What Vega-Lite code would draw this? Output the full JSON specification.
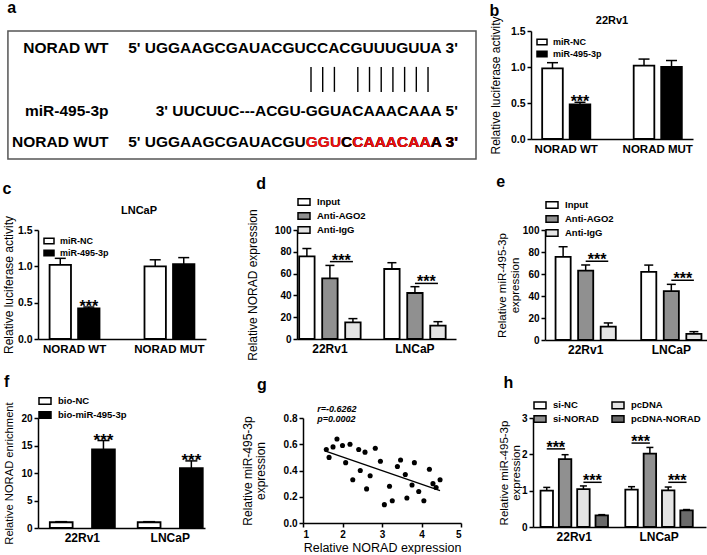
{
  "$schema": "https://vega.github.io/schema/vega-lite/v6.json",
  "padding": {"left": 2, "top": 0, "right": 0, "bottom": 0},
  "background": "white",
  "spacing": 13,
  "resolve": {"scale": {"x": "independent", "y": "independent", "xOffset": "independent", "fill": "independent", "color": "independent"}, "legend": {"fill": "independent", "color": "independent"}, "axis": {"x": "independent", "y": "independent"}},
  "datasets": {
    "aBox": [{"panel": "a"}],
    "aNames": [
      {"line": "NORAD WT"},
      {"line": "miR-495-3p"},
      {"line": "NORAD WUT"}
    ],
    "aSeq": [
      {"line": "NORAD WT", "seq": "5' UGGAAGCGAUACGUCCACGUUUGUUA 3'", "kind": "base"},
      {"line": "miR-495-3p", "seq": "3' UUCUUC---ACGU-GGUACAAACAAA 5'", "kind": "base"},
      {"line": "NORAD WUT", "seq": "5' UGGAAGCGAUACGUGGUCCAAACAAA 3'", "kind": "base"},
      {"line": "NORAD WUT", "seq": "GGUCCAAACAAA 3'", "kind": "mut"},
      {"line": "NORAD WUT", "seq": "CCAAACAAA 3'", "kind": "base"},
      {"line": "NORAD WUT", "seq": "CAAACAAA 3'", "kind": "mut"},
      {"line": "NORAD WUT", "seq": "A 3'", "kind": "base"}
    ],
    "aPairs": [
      {"nt": 15, "line": "pair"}, {"nt": 16, "line": "pair"}, {"nt": 17, "line": "pair"},
      {"nt": 19, "line": "pair"}, {"nt": 20, "line": "pair"}, {"nt": 21, "line": "pair"},
      {"nt": 22, "line": "pair"}, {"nt": 23, "line": "pair"}, {"nt": 24, "line": "pair"},
      {"nt": 25, "line": "pair"}
    ],
    "b": [
      {"group": "NORAD WT", "cond": "miR-NC", "mean": 0.98, "upper": 1.06},
      {"group": "NORAD WT", "cond": "miR-495-3p", "mean": 0.48, "upper": 0.51},
      {"group": "NORAD MUT", "cond": "miR-NC", "mean": 1.02, "upper": 1.11},
      {"group": "NORAD MUT", "cond": "miR-495-3p", "mean": 1.0, "upper": 1.09}
    ],
    "c": [
      {"group": "NORAD WT", "cond": "miR-NC", "mean": 1.02, "upper": 1.11},
      {"group": "NORAD WT", "cond": "miR-495-3p", "mean": 0.42, "upper": 0.44},
      {"group": "NORAD MUT", "cond": "miR-NC", "mean": 1.0, "upper": 1.09},
      {"group": "NORAD MUT", "cond": "miR-495-3p", "mean": 1.03, "upper": 1.12}
    ],
    "d": [
      {"group": "22Rv1", "cond": "Input", "mean": 75.8, "upper": 83.0},
      {"group": "22Rv1", "cond": "Anti-AGO2", "mean": 55.7, "upper": 67.5},
      {"group": "22Rv1", "cond": "Anti-IgG", "mean": 15.3, "upper": 18.7},
      {"group": "LNCaP", "cond": "Input", "mean": 64.2, "upper": 70.0},
      {"group": "LNCaP", "cond": "Anti-AGO2", "mean": 42.2, "upper": 48.0},
      {"group": "LNCaP", "cond": "Anti-IgG", "mean": 12.2, "upper": 15.9}
    ],
    "dsig": [
      {"group": "22Rv1", "cond": "Anti-AGO2", "y": 71, "pair": "22Rv1", "end": "left"},
      {"group": "22Rv1", "cond": "Anti-IgG", "y": 71, "pair": "22Rv1", "end": "right"},
      {"group": "LNCaP", "cond": "Anti-AGO2", "y": 51, "pair": "LNCaP", "end": "left"},
      {"group": "LNCaP", "cond": "Anti-IgG", "y": 51, "pair": "LNCaP", "end": "right"}
    ],
    "e": [
      {"group": "22Rv1", "cond": "Input", "mean": 75.6, "upper": 84.8},
      {"group": "22Rv1", "cond": "Anti-AGO2", "mean": 63.1, "upper": 68.2},
      {"group": "22Rv1", "cond": "Anti-IgG", "mean": 12.2, "upper": 15.5},
      {"group": "LNCaP", "cond": "Input", "mean": 61.9, "upper": 68.1},
      {"group": "LNCaP", "cond": "Anti-AGO2", "mean": 44.5, "upper": 50.6},
      {"group": "LNCaP", "cond": "Anti-IgG", "mean": 5.5, "upper": 7.6}
    ],
    "esig": [
      {"group": "22Rv1", "cond": "Anti-AGO2", "y": 71.6, "pair": "22Rv1", "end": "left"},
      {"group": "22Rv1", "cond": "Anti-IgG", "y": 71.6, "pair": "22Rv1", "end": "right"},
      {"group": "LNCaP", "cond": "Anti-AGO2", "y": 54.3, "pair": "LNCaP", "end": "left"},
      {"group": "LNCaP", "cond": "Anti-IgG", "y": 54.3, "pair": "LNCaP", "end": "right"}
    ],
    "f": [
      {"group": "22Rv1", "cond": "bio-NC", "mean": 1.05, "upper": 1.15},
      {"group": "22Rv1", "cond": "bio-miR-495-3p", "mean": 14.3, "upper": 15.9},
      {"group": "LNCaP", "cond": "bio-NC", "mean": 1.05, "upper": 1.15},
      {"group": "LNCaP", "cond": "bio-miR-495-3p", "mean": 10.9, "upper": 12.2}
    ],
    "g": [
      {"norad": 1.59, "mir": 0.56}, {"norad": 1.66, "mir": 0.50}, {"norad": 1.76, "mir": 0.58},
      {"norad": 1.86, "mir": 0.64}, {"norad": 2.00, "mir": 0.59}, {"norad": 2.08, "mir": 0.46},
      {"norad": 2.19, "mir": 0.60}, {"norad": 2.26, "mir": 0.33}, {"norad": 2.41, "mir": 0.56},
      {"norad": 2.45, "mir": 0.40}, {"norad": 2.57, "mir": 0.54}, {"norad": 2.61, "mir": 0.26},
      {"norad": 2.70, "mir": 0.36}, {"norad": 2.83, "mir": 0.57}, {"norad": 2.96, "mir": 0.47},
      {"norad": 3.06, "mir": 0.14}, {"norad": 3.19, "mir": 0.28}, {"norad": 3.26, "mir": 0.17},
      {"norad": 3.39, "mir": 0.43}, {"norad": 3.47, "mir": 0.48}, {"norad": 3.59, "mir": 0.37},
      {"norad": 3.63, "mir": 0.19}, {"norad": 3.76, "mir": 0.29}, {"norad": 3.82, "mir": 0.46},
      {"norad": 3.93, "mir": 0.24}, {"norad": 4.06, "mir": 0.17}, {"norad": 4.20, "mir": 0.41},
      {"norad": 4.29, "mir": 0.30}, {"norad": 4.37, "mir": 0.27}, {"norad": 4.47, "mir": 0.33}
    ],
    "gfit": [
      {"norad": 1.59, "mir": 0.545},
      {"norad": 4.47, "mir": 0.247}
    ],
    "gstat": [
      {"stat": "r=-0.6262", "row": 0.869},
      {"stat": "p=0.0002", "row": 0.796}
    ],
    "h": [
      {"group": "22Rv1", "cond": "si-NC", "mean": 1.0, "upper": 1.09},
      {"group": "22Rv1", "cond": "si-NORAD", "mean": 1.87, "upper": 1.99},
      {"group": "22Rv1", "cond": "pcDNA", "mean": 1.04, "upper": 1.13},
      {"group": "22Rv1", "cond": "pcDNA-NORAD", "mean": 0.32, "upper": 0.34},
      {"group": "LNCaP", "cond": "si-NC", "mean": 1.03, "upper": 1.11},
      {"group": "LNCaP", "cond": "si-NORAD", "mean": 2.02, "upper": 2.19},
      {"group": "LNCaP", "cond": "pcDNA", "mean": 1.01, "upper": 1.10},
      {"group": "LNCaP", "cond": "pcDNA-NORAD", "mean": 0.46, "upper": 0.48}
    ],
    "hsig": [
      {"group": "22Rv1", "cond": "si-NC", "y": 2.15, "pair": "22Rv1-si", "end": "left"},
      {"group": "22Rv1", "cond": "si-NORAD", "y": 2.15, "pair": "22Rv1-si", "end": "right"},
      {"group": "22Rv1", "cond": "pcDNA", "y": 1.23, "pair": "22Rv1-pc", "end": "left"},
      {"group": "22Rv1", "cond": "pcDNA-NORAD", "y": 1.23, "pair": "22Rv1-pc", "end": "right"},
      {"group": "LNCaP", "cond": "si-NC", "y": 2.31, "pair": "LNCaP-si", "end": "left"},
      {"group": "LNCaP", "cond": "si-NORAD", "y": 2.31, "pair": "LNCaP-si", "end": "right"},
      {"group": "LNCaP", "cond": "pcDNA", "y": 1.23, "pair": "LNCaP-pc", "end": "left"},
      {"group": "LNCaP", "cond": "pcDNA-NORAD", "y": 1.23, "pair": "LNCaP-pc", "end": "right"}
    ]
  },
  "vconcat": [
    {
      "spacing": 12,
      "resolve": {"scale": {"x": "independent", "y": "independent", "xOffset": "independent", "fill": "independent", "color": "independent"}, "legend": {"fill": "independent", "color": "independent"}},
      "hconcat": [
        {
          "title": {"text": "a", "offset": 14},
          "width": 438,
          "height": 128,
          "layer": [
            {
              "data": {"name": "aBox"},
              "mark": {"type": "rect", "filled": false, "stroke": "#555555", "strokeWidth": 1.5},
              "encoding": {
                "x": {"datum": -10.9, "type": "quantitative", "scale": {"domain": [-8.33, 29.1], "nice": false, "zero": false}, "axis": null},
                "x2": {"datum": 29.1}
              }
            },
            {
              "data": {"name": "aNames"},
              "mark": {"type": "text", "align": "right", "baseline": "middle", "fontSize": 15.5, "fontWeight": "bold"},
              "encoding": {
                "x": {"datum": -2.3, "type": "quantitative", "axis": null},
                "y": {"field": "line", "type": "nominal", "scale": {"type": "point", "domain": ["NORAD WT", "pair", "miR-495-3p", "NORAD WUT"], "padding": 0.55}, "axis": null},
                "text": {"field": "line"}
              }
            },
            {
              "data": {"name": "aSeq"},
              "mark": {"type": "text", "align": "right", "baseline": "middle", "fontSize": 15.5, "fontWeight": "bold"},
              "encoding": {
                "x": {"datum": 27.55, "type": "quantitative", "axis": null},
                "y": {"field": "line", "type": "nominal", "axis": null},
                "text": {"field": "seq"},
                "color": {"field": "kind", "type": "nominal", "scale": {"domain": ["base", "mut"], "range": ["black", "#ee1111"]}, "legend": null}
              }
            },
            {
              "data": {"name": "aPairs"},
              "mark": {"type": "tick", "size": 25, "thickness": 1.4, "color": "black", "opacity": 1},
              "encoding": {
                "x": {"field": "nt", "type": "quantitative", "axis": null},
                "y": {"field": "line", "type": "nominal", "axis": null}
              }
            }
          ]
        },
        {
          "title": {"text": "b", "offset": -3.5},
          "resolve": {"scale": {"x": "independent", "y": "independent", "xOffset": "independent", "fill": "independent"}, "legend": {"fill": "independent"}},
          "vconcat": [
            {
              "title": {"text": "22Rv1", "anchor": "middle", "frame": "group", "fontSize": 11, "offset": -10.5},
              "width": 162,
              "height": 108,
              "data": {"name": "b"},
              "encoding": {
                "x": {"field": "group", "type": "nominal", "sort": ["NORAD WT", "NORAD MUT"], "scale": {"paddingInner": 0.45, "paddingOuter": 0.11}, "axis": {"title": null, "labelAngle": 0, "ticks": false, "labelFontSize": 11.5, "labelPadding": 4}},
                "xOffset": {"field": "cond", "type": "nominal", "sort": ["miR-NC", "miR-495-3p"], "scale": {"paddingInner": 0.25, "paddingOuter": 0.04}}
              },
              "layer": [
                {"mark": {"type": "bar", "stroke": "black", "strokeWidth": 1.8}, "encoding": {
                  "y": {"field": "mean", "type": "quantitative", "scale": {"domain": [0, 1.5], "nice": false}, "axis": {"title": "Relative luciferase activity", "values": [0, 0.5, 1, 1.5], "format": ".1f", "labelFontSize": 10.5, "titleFontSize": 12, "titlePadding": 8}},
                  "fill": {"field": "cond", "type": "nominal", "scale": {"domain": ["miR-NC", "miR-495-3p"], "range": ["white", "black"]}, "legend": {"orient": "top-left", "offset": 5, "symbolSize": 100, "rowPadding": -1, "labelFontSize": 9, "labelOffset": 5}}
                }},
                {"mark": {"type": "rule", "color": "black", "strokeWidth": 1.5}, "encoding": {"y": {"field": "mean", "type": "quantitative", "axis": {"title": "Relative luciferase activity", "values": [0, 0.5, 1, 1.5], "format": ".1f", "labelFontSize": 10.5, "titleFontSize": 12, "titlePadding": 8}}, "y2": {"field": "upper"}}},
                {"mark": {"type": "tick", "color": "black", "thickness": 1.5, "size": 11, "opacity": 1}, "encoding": {"y": {"field": "upper", "type": "quantitative", "axis": {"title": "Relative luciferase activity", "values": [0, 0.5, 1, 1.5], "format": ".1f", "labelFontSize": 10.5, "titleFontSize": 12, "titlePadding": 8}}}},
                {"transform": [{"filter": "datum.cond === 'miR-495-3p' && datum.group === 'NORAD WT'"}], "mark": {"type": "text", "text": "***", "fontSize": 16, "fontWeight": "bold", "baseline": "alphabetic", "dy": 5}, "encoding": {"y": {"field": "upper", "type": "quantitative", "axis": {"title": "Relative luciferase activity", "values": [0, 0.5, 1, 1.5], "format": ".1f", "labelFontSize": 10.5, "titleFontSize": 12, "titlePadding": 8}}}}
              ]
            }
          ]
        }
      ]
    },
    {
      "spacing": 40,
      "resolve": {"scale": {"x": "independent", "y": "independent", "xOffset": "independent", "fill": "independent"}, "legend": {"fill": "independent"}},
      "hconcat": [
        {
          "title": {"text": "c", "offset": 8.5},
          "resolve": {"scale": {"x": "independent", "y": "independent", "xOffset": "independent", "fill": "independent"}, "legend": {"fill": "independent"}},
          "vconcat": [
            {
              "title": {"text": "LNCaP", "anchor": "middle", "frame": "group", "fontSize": 11, "offset": -1, "dx": 17},
              "width": 168,
              "height": 109,
              "data": {"name": "c"},
              "encoding": {
                "x": {"field": "group", "type": "nominal", "sort": ["NORAD WT", "NORAD MUT"], "scale": {"paddingInner": 0.45, "paddingOuter": 0.11}, "axis": {"title": null, "labelAngle": 0, "ticks": false, "labelFontSize": 11.5, "labelPadding": 4}},
                "xOffset": {"field": "cond", "type": "nominal", "sort": ["miR-NC", "miR-495-3p"], "scale": {"paddingInner": 0.25, "paddingOuter": 0.04}}
              },
              "layer": [
                {"mark": {"type": "bar", "stroke": "black", "strokeWidth": 1.8}, "encoding": {
                  "y": {"field": "mean", "type": "quantitative", "scale": {"domain": [0, 1.5], "nice": false}, "axis": {"title": "Relative luciferase activity", "values": [0, 0.5, 1, 1.5], "format": ".1f", "labelFontSize": 10.5, "titleFontSize": 12, "titlePadding": 2}},
                  "fill": {"field": "cond", "type": "nominal", "scale": {"domain": ["miR-NC", "miR-495-3p"], "range": ["white", "black"]}, "legend": {"orient": "top-left", "offset": 5, "symbolSize": 100, "rowPadding": -1, "labelFontSize": 9, "labelOffset": 5}}
                }},
                {"mark": {"type": "rule", "color": "black", "strokeWidth": 1.5}, "encoding": {"y": {"field": "mean", "type": "quantitative", "axis": {"title": "Relative luciferase activity", "values": [0, 0.5, 1, 1.5], "format": ".1f", "labelFontSize": 10.5, "titleFontSize": 12, "titlePadding": 2}}, "y2": {"field": "upper"}}},
                {"mark": {"type": "tick", "color": "black", "thickness": 1.5, "size": 11, "opacity": 1}, "encoding": {"y": {"field": "upper", "type": "quantitative", "axis": {"title": "Relative luciferase activity", "values": [0, 0.5, 1, 1.5], "format": ".1f", "labelFontSize": 10.5, "titleFontSize": 12, "titlePadding": 2}}}},
                {"transform": [{"filter": "datum.cond === 'miR-495-3p' && datum.group === 'NORAD WT'"}], "mark": {"type": "text", "text": "***", "fontSize": 16, "fontWeight": "bold", "baseline": "alphabetic", "dy": 5}, "encoding": {"y": {"field": "upper", "type": "quantitative", "axis": {"title": "Relative luciferase activity", "values": [0, 0.5, 1, 1.5], "format": ".1f", "labelFontSize": 10.5, "titleFontSize": 12, "titlePadding": 2}}}}
              ]
            }
          ]
        },
        {
          "title": {"text": "d", "dx": 10, "offset": 3},
          "width": 159,
          "height": 109,
          "encoding": {
            "x": {"field": "group", "type": "nominal", "sort": ["22Rv1", "LNCaP"], "scale": {"paddingInner": 0.25, "paddingOuter": 0.06, "align": 0.1}, "axis": {"title": null, "labelAngle": 0, "ticks": false, "labelFontSize": 12, "labelPadding": 4}},
            "xOffset": {"field": "cond", "type": "nominal", "sort": ["Input", "Anti-AGO2", "Anti-IgG"], "scale": {"paddingInner": 0.33, "paddingOuter": 0.05}}
          },
          "layer": [
            {"data": {"name": "d"}, "mark": {"type": "bar", "stroke": "black", "strokeWidth": 1.8}, "encoding": {
              "y": {"field": "mean", "type": "quantitative", "scale": {"domain": [0, 100], "nice": false}, "axis": {"title": "Relative NORAD expression", "values": [0, 20, 40, 60, 80, 100], "titleFontSize": 12, "titlePadding": 15}},
              "fill": {"field": "cond", "type": "nominal", "scale": {"domain": ["Input", "Anti-AGO2", "Anti-IgG"], "range": ["white", "#909090", "#e4e4e4"]}, "legend": {"orient": "top", "direction": "vertical", "offset": -7}}
            }},
            {"data": {"name": "d"}, "mark": {"type": "rule", "color": "black", "strokeWidth": 1.5}, "encoding": {"y": {"field": "mean", "type": "quantitative", "axis": {"title": "Relative NORAD expression", "values": [0, 20, 40, 60, 80, 100], "titleFontSize": 12, "titlePadding": 15}}, "y2": {"field": "upper"}}},
            {"data": {"name": "d"}, "mark": {"type": "tick", "color": "black", "thickness": 1.5, "size": 9, "opacity": 1}, "encoding": {"y": {"field": "upper", "type": "quantitative", "axis": {"title": "Relative NORAD expression", "values": [0, 20, 40, 60, 80, 100], "titleFontSize": 12, "titlePadding": 15}}}},
            {"data": {"name": "dsig"}, "mark": {"type": "line", "color": "black", "strokeWidth": 1.5}, "encoding": {"y": {"field": "y", "type": "quantitative", "axis": {"title": "Relative NORAD expression", "values": [0, 20, 40, 60, 80, 100], "titleFontSize": 12, "titlePadding": 15}}, "detail": {"field": "pair"}}},
            {"data": {"name": "dsig"}, "transform": [{"filter": "datum.end === 'left'"}], "mark": {"type": "text", "text": "***", "fontSize": 16, "fontWeight": "bold", "baseline": "alphabetic", "dy": 4, "dx": 11.5}, "encoding": {"y": {"field": "y", "type": "quantitative", "axis": {"title": "Relative NORAD expression", "values": [0, 20, 40, 60, 80, 100], "titleFontSize": 12, "titlePadding": 15}}}}
          ]
        },
        {
          "title": {"text": "e", "offset": 8.5},
          "width": 167,
          "height": 110,
          "encoding": {
            "x": {"field": "group", "type": "nominal", "sort": ["22Rv1", "LNCaP"], "scale": {"paddingInner": 0.27, "paddingOuter": 0.11}, "axis": {"title": null, "labelAngle": 0, "ticks": false, "labelFontSize": 12, "labelPadding": 4}},
            "xOffset": {"field": "cond", "type": "nominal", "sort": ["Input", "Anti-AGO2", "Anti-IgG"], "scale": {"paddingInner": 0.33, "paddingOuter": 0.05}}
          },
          "layer": [
            {"data": {"name": "e"}, "mark": {"type": "bar", "stroke": "black", "strokeWidth": 1.8}, "encoding": {
              "y": {"field": "mean", "type": "quantitative", "scale": {"domain": [0, 100], "nice": false}, "axis": {"title": ["Relative miR-495-3p", "expression"], "values": [0, 20, 40, 60, 80, 100], "titleFontSize": 11.5, "titleLineHeight": 13, "titlePadding": 2}},
              "fill": {"field": "cond", "type": "nominal", "scale": {"domain": ["Input", "Anti-AGO2", "Anti-IgG"], "range": ["white", "#909090", "#e4e4e4"]}, "legend": {"orient": "top", "direction": "vertical", "offset": -9.5}}
            }},
            {"data": {"name": "e"}, "mark": {"type": "rule", "color": "black", "strokeWidth": 1.5}, "encoding": {"y": {"field": "mean", "type": "quantitative", "axis": {"title": ["Relative miR-495-3p", "expression"], "values": [0, 20, 40, 60, 80, 100], "titleFontSize": 11.5, "titleLineHeight": 13, "titlePadding": 2}}, "y2": {"field": "upper"}}},
            {"data": {"name": "e"}, "mark": {"type": "tick", "color": "black", "thickness": 1.5, "size": 9, "opacity": 1}, "encoding": {"y": {"field": "upper", "type": "quantitative", "axis": {"title": ["Relative miR-495-3p", "expression"], "values": [0, 20, 40, 60, 80, 100], "titleFontSize": 11.5, "titleLineHeight": 13, "titlePadding": 2}}}},
            {"data": {"name": "esig"}, "mark": {"type": "line", "color": "black", "strokeWidth": 1.5}, "encoding": {"y": {"field": "y", "type": "quantitative", "axis": {"title": ["Relative miR-495-3p", "expression"], "values": [0, 20, 40, 60, 80, 100], "titleFontSize": 11.5, "titleLineHeight": 13, "titlePadding": 2}}, "detail": {"field": "pair"}}},
            {"data": {"name": "esig"}, "transform": [{"filter": "datum.end === 'left'"}], "mark": {"type": "text", "text": "***", "fontSize": 16, "fontWeight": "bold", "baseline": "alphabetic", "dy": 4, "dx": 11.5}, "encoding": {"y": {"field": "y", "type": "quantitative", "axis": {"title": ["Relative miR-495-3p", "expression"], "values": [0, 20, 40, 60, 80, 100], "titleFontSize": 11.5, "titleLineHeight": 13, "titlePadding": 2}}}}
          ]
        }
      ]
    },
    {
      "spacing": 36,
      "resolve": {"scale": {"x": "independent", "y": "independent", "xOffset": "independent", "fill": "independent"}, "legend": {"fill": "independent"}},
      "hconcat": [
        {
          "title": {"text": "f", "offset": 4},
          "width": 167,
          "height": 110,
          "data": {"name": "f"},
          "encoding": {
            "x": {"field": "group", "type": "nominal", "sort": ["22Rv1", "LNCaP"], "scale": {"paddingInner": 0.26, "paddingOuter": 0.08, "align": 0.84}, "axis": {"title": null, "labelAngle": 0, "ticks": false, "labelFontSize": 12, "labelPadding": 4}},
            "xOffset": {"field": "cond", "type": "nominal", "sort": ["bio-NC", "bio-miR-495-3p"], "scale": {"paddingInner": 0.46, "paddingOuter": 0.0}}
          },
          "layer": [
            {"mark": {"type": "bar", "stroke": "black", "strokeWidth": 1.8}, "encoding": {
              "y": {"field": "mean", "type": "quantitative", "scale": {"domain": [0, 20], "nice": false}, "axis": {"title": "Relative NORAD enrichment", "values": [0, 5, 10, 15, 20], "titleFontSize": 11.2, "titlePadding": 6}},
              "fill": {"field": "cond", "type": "nominal", "scale": {"domain": ["bio-NC", "bio-miR-495-3p"], "range": ["white", "black"]}, "legend": {"orient": "top", "direction": "vertical", "offset": -3.5}}
            }},
            {"mark": {"type": "rule", "color": "black", "strokeWidth": 1.5}, "encoding": {"y": {"field": "mean", "type": "quantitative", "axis": {"title": "Relative NORAD enrichment", "values": [0, 5, 10, 15, 20], "titleFontSize": 11.2, "titlePadding": 6}}, "y2": {"field": "upper"}}},
            {"mark": {"type": "tick", "color": "black", "thickness": 1.5, "size": 12, "opacity": 1}, "encoding": {"y": {"field": "upper", "type": "quantitative", "axis": {"title": "Relative NORAD enrichment", "values": [0, 5, 10, 15, 20], "titleFontSize": 11.2, "titlePadding": 6}}}},
            {"transform": [{"filter": "datum.cond === 'bio-miR-495-3p'"}], "mark": {"type": "text", "text": "***", "fontSize": 17, "fontWeight": "bold", "baseline": "alphabetic", "dy": 5}, "encoding": {"y": {"field": "upper", "type": "quantitative", "axis": {"title": "Relative NORAD enrichment", "values": [0, 5, 10, 15, 20], "titleFontSize": 11.2, "titlePadding": 6}}}}
          ]
        },
        {
          "title": {"text": "g", "dx": 16, "offset": 11.5},
          "width": 158,
          "height": 105,
          "layer": [
            {"data": {"name": "g"}, "mark": {"type": "circle", "color": "black", "opacity": 1, "size": 26}, "encoding": {
              "x": {"field": "norad", "type": "quantitative", "scale": {"domain": [1, 5], "nice": false, "zero": false}, "axis": {"title": "Relative NORAD expression", "values": [1, 2, 3, 4, 5], "titlePadding": 2, "labelPadding": 2}},
              "y": {"field": "mir", "type": "quantitative", "scale": {"domain": [0, 0.8], "nice": false}, "axis": {"title": ["Relative miR-495-3p", "expression"], "values": [0, 0.2, 0.4, 0.6, 0.8], "format": ".1f", "titleFontSize": 12, "titleLineHeight": 13, "titlePadding": 16}}
            }},
            {"data": {"name": "gfit"}, "mark": {"type": "line", "color": "black", "strokeWidth": 1.3}, "encoding": {
              "x": {"field": "norad", "type": "quantitative", "axis": {"title": "Relative NORAD expression", "values": [1, 2, 3, 4, 5], "titlePadding": 2, "labelPadding": 2}},
              "y": {"field": "mir", "type": "quantitative", "axis": {"title": ["Relative miR-495-3p", "expression"], "values": [0, 0.2, 0.4, 0.6, 0.8], "format": ".1f", "titleFontSize": 12, "titleLineHeight": 13, "titlePadding": 16}}
            }},
            {"data": {"name": "gstat"}, "mark": {"type": "text", "align": "left", "baseline": "middle", "fontStyle": "italic", "fontWeight": "bold", "fontSize": 9}, "encoding": {
              "x": {"datum": 1.36, "type": "quantitative", "axis": {"title": "Relative NORAD expression", "values": [1, 2, 3, 4, 5], "titlePadding": 2, "labelPadding": 2}},
              "y": {"field": "row", "type": "quantitative", "axis": {"title": ["Relative miR-495-3p", "expression"], "values": [0, 0.2, 0.4, 0.6, 0.8], "format": ".1f", "titleFontSize": 12, "titleLineHeight": 13, "titlePadding": 16}},
              "text": {"field": "stat"}
            }}
          ]
        },
        {
          "title": {"text": "h", "dx": 5, "offset": 7.5},
          "width": 173,
          "height": 109,
          "encoding": {
            "x": {"field": "group", "type": "nominal", "sort": ["22Rv1", "LNCaP"], "scale": {"paddingInner": 0.2, "paddingOuter": 0.12, "align": 0.36}, "axis": {"title": null, "labelAngle": 0, "ticks": false, "labelFontSize": 12, "labelPadding": 4}},
            "xOffset": {"field": "cond", "type": "nominal", "sort": ["si-NC", "si-NORAD", "pcDNA", "pcDNA-NORAD"], "scale": {"paddingInner": 0.32, "paddingOuter": 0.01}}
          },
          "layer": [
            {"data": {"name": "h"}, "mark": {"type": "bar", "stroke": "black", "strokeWidth": 1.8}, "encoding": {
              "y": {"field": "mean", "type": "quantitative", "scale": {"domain": [0, 3], "nice": false}, "axis": {"title": ["Relative miR-495-3p", "expression"], "values": [0, 1, 2, 3], "titleFontSize": 11.5, "titleLineHeight": 12, "titlePadding": 0}},
              "fill": {"field": "cond", "type": "nominal", "scale": {"domain": ["si-NC", "si-NORAD", "pcDNA", "pcDNA-NORAD"], "range": ["white", "#909090", "#e4e4e4", "#6a6a6a"]}, "legend": {"orient": "top", "direction": "vertical", "columns": 2, "columnPadding": 10, "offset": -7.5}}
            }},
            {"data": {"name": "h"}, "mark": {"type": "rule", "color": "black", "strokeWidth": 1.5}, "encoding": {"y": {"field": "mean", "type": "quantitative", "axis": {"title": ["Relative miR-495-3p", "expression"], "values": [0, 1, 2, 3], "titleFontSize": 11.5, "titleLineHeight": 12, "titlePadding": 0}}, "y2": {"field": "upper"}}},
            {"data": {"name": "h"}, "mark": {"type": "tick", "color": "black", "thickness": 1.5, "size": 7, "opacity": 1}, "encoding": {"y": {"field": "upper", "type": "quantitative", "axis": {"title": ["Relative miR-495-3p", "expression"], "values": [0, 1, 2, 3], "titleFontSize": 11.5, "titleLineHeight": 12, "titlePadding": 0}}}},
            {"data": {"name": "hsig"}, "mark": {"type": "line", "color": "black", "strokeWidth": 1.5}, "encoding": {"y": {"field": "y", "type": "quantitative", "axis": {"title": ["Relative miR-495-3p", "expression"], "values": [0, 1, 2, 3], "titleFontSize": 11.5, "titleLineHeight": 12, "titlePadding": 0}}, "detail": {"field": "pair"}}},
            {"data": {"name": "hsig"}, "transform": [{"filter": "datum.end === 'left'"}], "mark": {"type": "text", "text": "***", "fontSize": 16, "fontWeight": "bold", "baseline": "alphabetic", "dy": 4, "dx": 9}, "encoding": {"y": {"field": "y", "type": "quantitative", "axis": {"title": ["Relative miR-495-3p", "expression"], "values": [0, 1, 2, 3], "titleFontSize": 11.5, "titleLineHeight": 12, "titlePadding": 0}}}}
          ]
        }
      ]
    }
  ],
  "config": {
    "font": "Liberation Sans",
    "view": {"stroke": null},
    "axis": {"domainColor": "black", "domainWidth": 1.5, "tickColor": "black", "tickWidth": 1.5, "tickSize": 4, "labelColor": "black", "labelFontWeight": "bold", "labelFontSize": 10, "titleColor": "black", "titleFontWeight": "normal", "titleFontSize": 12.5, "grid": false},
    "legend": {"title": null, "labelFontSize": 9.5, "labelFontWeight": "bold", "labelColor": "black", "symbolType": "M-1,-0.55H1V0.55H-1Z", "symbolSize": 144, "symbolStrokeColor": "black", "symbolStrokeWidth": 1.5, "rowPadding": -1.5, "labelOffset": 6, "padding": 0},
    "title": {"anchor": "start", "fontSize": 16, "fontWeight": "bold", "color": "black", "offset": 4},
    "text": {"color": "black"}
  }
}
